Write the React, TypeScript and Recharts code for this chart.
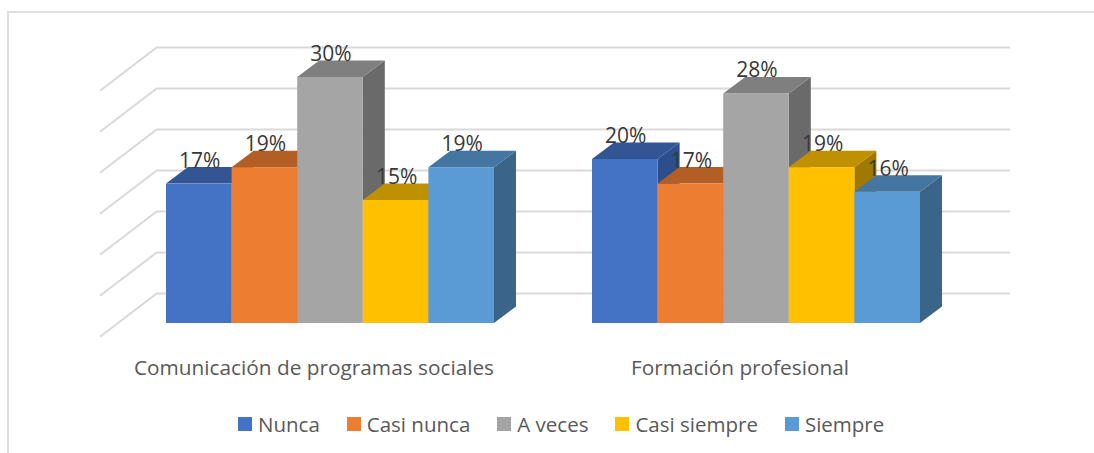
import { Bar, BarChart, CartesianGrid, LabelList, Legend, XAxis, YAxis } from "recharts";

const categories = ["Comunicación de programas sociales", "Formación profesional"];
const nunca = [17, 20];
const casiNunca = [19, 17];
const aVeces = [30, 28];
const casiSiempre = [15, 19];
const siempre = [19, 16];
const yTicks = [0, 5, 10, 15, 20, 25, 30];

const data = categories.map((name, i) => ({
  name,
  nunca: nunca[i],
  casiNunca: casiNunca[i],
  aVeces: aVeces[i],
  casiSiempre: casiSiempre[i],
  siempre: siempre[i],
}));

const series = [
  { key: "nunca", name: "Nunca", fill: "#4472C4", top: "#335593", side: "#2C4E8A" },
  { key: "casiNunca", name: "Casi nunca", fill: "#ED7D31", top: "#B25E25", side: "#9A5120" },
  { key: "aVeces", name: "A veces", fill: "#A5A5A5", top: "#7F7F7F", side: "#6A6A6A" },
  { key: "casiSiempre", name: "Casi siempre", fill: "#FFC000", top: "#BF9000", side: "#A07900" },
  { key: "siempre", name: "Siempre", fill: "#5B9BD5", top: "#4575A1", side: "#3A6488" },
];

const DEPTH_X = 22;
const DEPTH_Y = 16.5;
const FONT = "'Open Sans', sans-serif";

function Box3D(props: any) {
  const { x, y, width, height, fill, top, side } = props;
  const r = x + width;
  const b = y + height;
  return (
    <g>
      <polygon
        points={`${r},${y} ${r + DEPTH_X},${y - DEPTH_Y} ${r + DEPTH_X},${b - DEPTH_Y} ${r},${b}`}
        fill={side}
      />
      <polygon
        points={`${x},${y} ${x + DEPTH_X},${y - DEPTH_Y} ${r + DEPTH_X},${y - DEPTH_Y} ${r},${y}`}
        fill={top}
      />
      <rect x={x} y={y} width={width} height={height} fill={fill} />
    </g>
  );
}

// back wall line plus the diagonal on the left side wall
function WallLine(props: any) {
  const { x1, x2, y1 } = props;
  return (
    <polyline
      points={`${x1 - 17},${y1 + 13.7} ${x1 + 39.7},${y1 - 29.5} ${x2 + 41},${y1 - 29.5}`}
      fill="none"
      stroke="#D9D9D9"
      strokeWidth={2}
    />
  );
}

function LegendRow() {
  return (
    <div style={{ display: "flex", fontFamily: FONT, fontSize: 20.5, color: "#595959", lineHeight: "28px" }}>
      {series.map((s) => (
        <div key={s.key} style={{ display: "flex", alignItems: "center", marginRight: 27 }}>
          <span style={{ width: 14, height: 14, background: s.fill, marginRight: 6 }} />
          <span>{s.name}</span>
        </div>
      ))}
    </div>
  );
}

export default function App() {
  return (
    <div style={{ position: "absolute", left: 0, top: 0, width: 1094, height: 453, overflow: "hidden", background: "#fff" }}>
      <div
        style={{
          position: "absolute",
          left: 7,
          top: 11,
          right: 0,
          bottom: 0,
          borderLeft: "2px solid #DEDEDE",
          borderTop: "2px solid #DEDEDE",
        }}
      />
      <BarChart
        width={1094}
        height={453}
        data={data}
        margin={{ top: 77, right: 125, bottom: 42, left: 117 }}
        barSize={65.6}
        barGap={0}
        style={{ position: "absolute", left: 0, top: 0 }}
      >
        <CartesianGrid vertical={false} horizontal={(p: any) => <WallLine key={p.index} {...p} />} />
        <XAxis
          dataKey="name"
          height={60}
          axisLine={false}
          tickLine={false}
          tick={{ fill: "#595959", fontSize: 20.8, fontFamily: FONT, dx: -16, dy: 29 }}
          interval={0}
        />
        <YAxis hide width={0} domain={[0, 30]} ticks={yTicks} interval={0} />
        {series.map((s) => (
          <Bar
            key={s.key}
            dataKey={s.key}
            name={s.name}
            fill={s.fill}
            isAnimationActive={false}
            shape={(p: any) => <Box3D {...p} fill={s.fill} top={s.top} side={s.side} />}
          >
            <LabelList
              dataKey={s.key}
              position="top"
              offset={16}
              dx={1}
              formatter={(v: any) => `${v}%`}
              fill="#383838"
              fontSize={21}
              fontFamily={FONT}
            />
          </Bar>
        ))}
        <Legend
          content={() => <LegendRow />}
          wrapperStyle={{ position: "absolute", left: 238, top: 410, width: "auto" }}
        />
      </BarChart>
    </div>
  );
}
